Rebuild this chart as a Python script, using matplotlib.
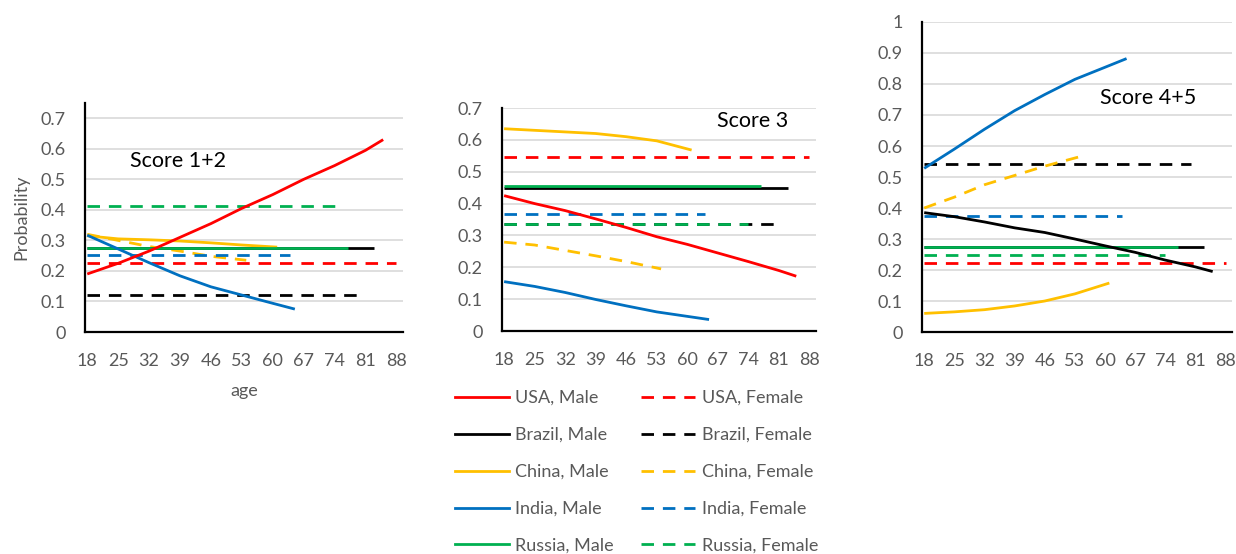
import matplotlib
matplotlib.use("Agg")
import matplotlib.pyplot as plt
from matplotlib.lines import Line2D

plt.rcParams['font.family'] = ['Lato', 'DejaVu Sans']

# ages used for the 7-year knots
ages_usa_m = [18, 25, 32, 39, 46, 53, 60, 67, 74, 81, 85]
ages_china_m = [18, 25, 32, 39, 46, 53, 61]
ages_china_f = [18, 25, 32, 39, 46, 54]
ages_india_m = [18, 25, 32, 39, 46, 53, 60, 65]

# flat series: start/end age
ages_usa_f = [18, 88]
ages_brazil_m = [18, 83]
ages_brazil_f = [18, 80]
ages_india_f = [18, 64]
ages_russia_m = [18, 77]
ages_russia_f = [18, 74]

# Score 1+2
s12_usa_m = [0.19, 0.225, 0.265, 0.31, 0.355, 0.405, 0.45, 0.50, 0.545, 0.595, 0.63]
s12_usa_f = [0.227, 0.227]
s12_brazil_m = [0.274, 0.274]
s12_brazil_f = [0.121, 0.121]
s12_china_m = [0.315, 0.305, 0.302, 0.298, 0.292, 0.285, 0.278]
s12_china_f = [0.32, 0.30, 0.28, 0.265, 0.248, 0.235]
s12_india_m = [0.317, 0.272, 0.227, 0.184, 0.148, 0.121, 0.094, 0.075]
s12_india_f = [0.252, 0.252]
s12_russia_m = [0.275, 0.275]
s12_russia_f = [0.413, 0.413]

# Score 3
s3_usa_m = [0.425, 0.40, 0.378, 0.352, 0.325, 0.296, 0.272, 0.245, 0.218, 0.19, 0.172]
s3_usa_f = [0.547, 0.547]
s3_brazil_m = [0.448, 0.448]
s3_brazil_f = [0.336, 0.336]
s3_china_m = [0.635, 0.630, 0.625, 0.620, 0.610, 0.597, 0.568]
s3_china_f = [0.279, 0.27, 0.253, 0.236, 0.218, 0.195]
s3_india_m = [0.155, 0.14, 0.121, 0.099, 0.079, 0.060, 0.046, 0.036]
s3_india_f = [0.368, 0.368]
s3_russia_m = [0.454, 0.454]
s3_russia_f = [0.336, 0.336]

# Score 4+5
s45_usa_m = [0.385, 0.372, 0.355, 0.336, 0.321, 0.30, 0.278, 0.257, 0.232, 0.21, 0.195]
s45_usa_f = [0.223, 0.223]
s45_brazil_m = [0.274, 0.274]
s45_brazil_f = [0.541, 0.541]
s45_china_m = [0.06, 0.065, 0.072, 0.084, 0.10, 0.123, 0.158]
s45_china_f = [0.40, 0.435, 0.475, 0.505, 0.535, 0.565]
s45_india_m = [0.528, 0.59, 0.654, 0.714, 0.766, 0.815, 0.854, 0.882]
s45_india_f = [0.374, 0.374]
s45_russia_m = [0.273, 0.273]
s45_russia_f = [0.247, 0.247]

RED, BLACK, GOLD, BLUE, GREEN = '#FF0000', '#000000', '#FFC000', '#0070C0', '#00B050'
GRAY = '#595959'
LW = 2.0
DASH = (4.5, 3.2)

fig = plt.figure(figsize=(12.36, 5.54), dpi=100)

ax1 = fig.add_axes([0.0688, 0.4007, 0.2573, 0.4134])
ax2 = fig.add_axes([0.4061, 0.4025, 0.2540, 0.4025])
ax3 = fig.add_axes([0.7460, 0.4007, 0.2508, 0.5596])


def solid(ax, x, y, c):
    ax.plot(x, y, color=c, lw=LW, solid_capstyle='butt')


def dashed(ax, x, y, c):
    ax.plot(x, y, color=c, lw=LW, linestyle=(0, DASH), dash_capstyle='butt')


def style(ax, ymax, yticks, title, tx, ty):
    ax.set_xlim(17.5, 89.5)
    ax.set_ylim(0, ymax)
    ax.set_xticks(range(18, 89, 7))
    ax.set_yticks(yticks)
    ax.set_yticklabels([f"{v:g}" for v in yticks])
    ax.tick_params(length=0, labelsize=13, labelcolor=GRAY)
    ax.tick_params(axis='y', pad=14)
    ax.tick_params(axis='x', pad=15)
    ax.grid(axis='y', color='#D9D9D9', lw=1.2)
    ax.set_axisbelow(True)
    for s in ('top', 'right'):
        ax.spines[s].set_visible(False)
    for s in ('left', 'bottom'):
        ax.spines[s].set_linewidth(1.6)
        ax.spines[s].set_color('black')
    ax.text(tx, ty, title, transform=ax.transAxes, fontsize=15.5,
            color='black', va='center', ha='left')


# panel 1: Score 1+2
dashed(ax1, ages_usa_f, s12_usa_f, RED)
dashed(ax1, ages_brazil_f, s12_brazil_f, BLACK)
dashed(ax1, ages_china_f, s12_china_f, GOLD)
dashed(ax1, ages_india_f, s12_india_f, BLUE)
dashed(ax1, ages_russia_f, s12_russia_f, GREEN)
solid(ax1, ages_brazil_m, s12_brazil_m, BLACK)
solid(ax1, ages_china_m, s12_china_m, GOLD)
solid(ax1, ages_russia_m, s12_russia_m, GREEN)
solid(ax1, ages_india_m, s12_india_m, BLUE)
solid(ax1, ages_usa_m, s12_usa_m, RED)
style(ax1, 0.75, [0, 0.1, 0.2, 0.3, 0.4, 0.5, 0.6, 0.7], 'Score 1+2', 0.14, 0.745)
ax1.set_ylabel('Probability', fontsize=13, color=GRAY, labelpad=8)
ax1.set_xlabel('age', fontsize=13, color=GRAY, labelpad=10)

# panel 2: Score 3
dashed(ax2, ages_usa_f, s3_usa_f, RED)
dashed(ax2, ages_brazil_f, s3_brazil_f, BLACK)
dashed(ax2, ages_russia_f, s3_russia_f, GREEN)
dashed(ax2, ages_india_f, s3_india_f, BLUE)
dashed(ax2, ages_china_f, s3_china_f, GOLD)
solid(ax2, ages_brazil_m, s3_brazil_m, BLACK)
solid(ax2, ages_russia_m, s3_russia_m, GREEN)
solid(ax2, ages_china_m, s3_china_m, GOLD)
solid(ax2, ages_usa_m, s3_usa_m, RED)
solid(ax2, ages_india_m, s3_india_m, BLUE)
style(ax2, 0.7, [0, 0.1, 0.2, 0.3, 0.4, 0.5, 0.6, 0.7], 'Score 3', 0.686, 0.94)

# panel 3: Score 4+5 (USA male drawn in black here)
dashed(ax3, ages_usa_f, s45_usa_f, RED)
dashed(ax3, ages_russia_f, s45_russia_f, GREEN)
dashed(ax3, ages_brazil_f, s45_brazil_f, BLACK)
dashed(ax3, ages_india_f, s45_india_f, BLUE)
dashed(ax3, ages_china_f, s45_china_f, GOLD)
solid(ax3, ages_brazil_m, s45_brazil_m, BLACK)
solid(ax3, ages_russia_m, s45_russia_m, GREEN)
solid(ax3, ages_usa_m, s45_usa_m, BLACK)
solid(ax3, ages_china_m, s45_china_m, GOLD)
solid(ax3, ages_india_m, s45_india_m, BLUE)
style(ax3, 1.0, [0, 0.1, 0.2, 0.3, 0.4, 0.5, 0.6, 0.7, 0.8, 0.9, 1.0],
      'Score 4+5', 0.575, 0.755)

countries = ['USA', 'Brazil', 'China', 'India', 'Russia']
colors = [RED, BLACK, GOLD, BLUE, GREEN]
handles, labels = [], []
for name, c in zip(countries, colors):
    handles.append(Line2D([], [], color=c, lw=LW))
    labels.append(f'{name}, Male')
for name, c in zip(countries, colors):
    handles.append(Line2D([], [], color=c, lw=LW, linestyle=(0, DASH)))
    labels.append(f'{name}, Female')

fig.legend(handles, labels, ncol=2, loc='upper left',
           bbox_to_anchor=(455 / 1236, 1 - 390 / 554), frameon=False,
           fontsize=13, labelcolor=GRAY, handlelength=3.0, handletextpad=0.35,
           labelspacing=1.16, columnspacing=1.5, borderpad=0, borderaxespad=0)

fig.savefig('out.png', dpi=100)
